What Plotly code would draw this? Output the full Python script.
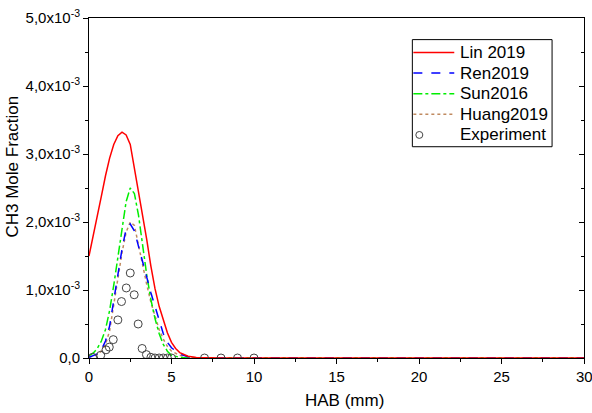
import plotly.graph_objects as go

# HAB (mm) grid for model curves
x_lin = [0, 0.25, 0.5, 0.75, 1.0, 1.25, 1.5, 1.75, 2.0, 2.25, 2.5, 2.75, 3.0, 3.25, 3.5, 3.75,
         4.0, 4.25, 4.5, 4.75, 5.0, 5.25, 5.5, 6.0, 6.5, 7.0, 8.0, 30.0]
y_lin = [1.50, 1.78, 2.08, 2.38, 2.68, 2.94, 3.14, 3.27, 3.32, 3.28, 3.14, 2.80, 2.42, 2.08, 1.74, 1.35,
         1.02, 0.76, 0.55, 0.37, 0.23, 0.14, 0.08, 0.025, 0.008, 0.003, 0.0, 0.0]

x_ren = [0, 0.25, 0.5, 0.75, 1.0, 1.25, 1.5, 1.75, 2.0, 2.25, 2.5, 2.75, 3.0, 3.25, 3.5, 3.75,
         4.0, 4.25, 4.5, 4.75, 5.0, 5.5, 6.0, 6.5, 7.0, 30.0]
y_ren = [0.01, 0.03, 0.06, 0.12, 0.25, 0.47, 0.85, 1.22, 1.60, 1.90, 1.97, 1.87, 1.64, 1.40, 1.16, 0.96,
         0.76, 0.55, 0.36, 0.23, 0.15, 0.06, 0.02, 0.005, 0.0, 0.0]

x_sun = [0, 0.25, 0.5, 0.75, 1.0, 1.25, 1.5, 1.75, 2.0, 2.25, 2.5, 2.75, 3.0, 3.25, 3.5, 3.75,
         4.0, 4.25, 4.5, 4.75, 5.0, 5.5, 6.0, 30.0]
y_sun = [0.03, 0.07, 0.14, 0.25, 0.42, 0.70, 1.07, 1.48, 1.92, 2.30, 2.50, 2.42, 2.10, 1.65, 1.22, 0.86,
         0.58, 0.36, 0.20, 0.10, 0.04, 0.01, 0.0, 0.0]

x_huang = [0, 0.25, 0.5, 0.75, 1.0, 1.25, 1.5, 1.75, 2.0, 2.25, 2.5, 2.75, 3.0, 3.25, 3.5, 3.75,
           4.0, 4.25, 4.5, 4.75, 5.0, 5.5, 6.0, 7.0, 30.0]
y_huang = [0.01, 0.03, 0.05, 0.10, 0.20, 0.40, 0.78, 1.18, 1.55, 1.85, 2.00, 1.95, 1.65, 1.35, 1.08, 0.82,
           0.60, 0.42, 0.28, 0.17, 0.10, 0.04, 0.01, 0.0, 0.0]

x_exp = [0.22, 0.71, 1.03, 1.23, 1.47, 1.75, 1.97, 2.26, 2.50, 2.74, 2.98, 3.22, 3.48, 3.75,
         4.0, 4.25, 4.5, 4.75, 5.0, 7.0, 8.0, 9.0, 10.0]
y_exp = [0.01, 0.04, 0.12, 0.16, 0.27, 0.56, 0.83, 1.03, 1.25, 0.93, 0.50, 0.14, 0.05, 0.01,
         0.0, 0.0, 0.0, 0.0, 0.0, 0.0, 0.0, 0.0, 0.0]

series_names = ["Lin 2019", "Ren2019", "Sun2016", "Huang2019", "Experiment"]
scale = 1e-3
y_ticks = [0, 1, 2, 3, 4, 5]
y_ticktext = ["0,0", "1,0x10<sup>-3</sup>", "2,0x10<sup>-3</sup>", "3,0x10<sup>-3</sup>",
              "4,0x10<sup>-3</sup>", "5,0x10<sup>-3</sup>"]
x_ticks = [0, 5, 10, 15, 20, 25, 30]
x_ticktext = ["0", "5", "10", "15", "20", "25", ""]

FONT = "Liberation Sans, Arial, sans-serif"
W, H = 592, 413
ML, MR, MT, MB = 89, 7, 12, 55
PW, PH = W - ML - MR, H - MT - MB


def px(x):
    return (x - ML) / PW


def py(y):
    return (H - MB - y) / PH


styles = {
    "Lin 2019": dict(color="#ff0000", width=1.5, dash="solid"),
    "Ren2019": dict(color="#0000ff", width=1.5, dash="dash"),
    "Sun2016": dict(color="#00ee00", width=1.5, dash="dashdot"),
    "Huang2019": dict(color="#c08a60", width=1.5, dash="dot"),
}

fig = go.Figure()
fig.add_trace(go.Scatter(x=x_huang, y=[v * scale for v in y_huang], mode="lines", name=series_names[3],
                         line=styles["Huang2019"]))
fig.add_trace(go.Scatter(x=x_sun, y=[v * scale for v in y_sun], mode="lines", name=series_names[2],
                         line=styles["Sun2016"]))
fig.add_trace(go.Scatter(x=x_ren, y=[v * scale for v in y_ren], mode="lines", name=series_names[1],
                         line=styles["Ren2019"]))
fig.add_trace(go.Scatter(x=x_lin, y=[v * scale for v in y_lin], mode="lines", name=series_names[0],
                         line=styles["Lin 2019"]))
fig.add_trace(go.Scatter(x=x_exp, y=[v * scale for v in y_exp], mode="markers", name=series_names[4],
                         marker=dict(symbol="circle-open", size=8, color="#444444",
                                     line=dict(width=1))))
# dummy trace for the right-hand axis with inward ticks
fig.add_trace(go.Scatter(x=[None], y=[None], yaxis="y2", showlegend=False, hoverinfo="skip"))

fig.update_layout(
    width=W, height=H,
    margin=dict(l=ML, r=MR, t=MT, b=MB),
    paper_bgcolor="white", plot_bgcolor="white",
    font=dict(family=FONT, color="#000000"),
    showlegend=False,
    xaxis=dict(range=[0, 30], tickvals=x_ticks, ticktext=x_ticktext, ticks="outside", ticklen=5,
               tickwidth=1, tickcolor="#000", showline=True, linecolor="#000", linewidth=1,
               mirror=True, showgrid=False, zeroline=False, tickfont=dict(size=15, family=FONT),
               minor=dict(tickvals=[2.5, 7.5, 12.5, 17.5, 22.5, 27.5], ticks="outside",
                          ticklen=3, tickcolor="#000")),
    yaxis=dict(range=[0, 5 * scale], tickvals=[v * scale for v in y_ticks], ticktext=y_ticktext,
               ticks="outside", ticklen=5, tickwidth=1, tickcolor="#000",
               showline=True, linecolor="#000", linewidth=1, mirror=True,
               showgrid=False, zeroline=False, tickfont=dict(size=15, family=FONT),
               minor=dict(tickvals=[v * scale for v in [0.5, 1.5, 2.5, 3.5, 4.5]],
                          ticks="outside", ticklen=3, tickcolor="#000")),
    yaxis2=dict(range=[0, 5 * scale], overlaying="y", side="right", anchor="x",
                tickvals=[v * scale for v in y_ticks], ticks="inside", ticklen=5,
                tickcolor="#000", showticklabels=False, showgrid=False, zeroline=False,
                minor=dict(tickvals=[v * scale for v in [0.5, 1.5, 2.5, 3.5, 4.5]],
                           ticks="inside", ticklen=3, tickcolor="#000")),
)

annotations = [
    dict(text="HAB (mm)", x=px(345), y=py(401), xref="paper", yref="paper", showarrow=False,
         xanchor="center", yanchor="middle", font=dict(size=17, family=FONT)),
    dict(text="CH3 Mole Fraction", textangle=-90, x=px(12), y=py(163), xref="paper", yref="paper",
         showarrow=False, xanchor="center", yanchor="middle", font=dict(size=17, family=FONT)),
    # last x tick label, partly cut off by the right edge as in the reference
    dict(text="30", x=1.0, y=py(377), xref="paper", yref="paper", showarrow=False,
         xanchor="center", yanchor="middle", font=dict(size=15, family=FONT)),
]
shapes = []

# legend drawn by hand so that its rows match the reference spacing
box_l, box_r, box_t, box_b = 413, 553, 34, 143
shapes.append(dict(type="rect", xref="paper", yref="paper", x0=px(box_l), x1=px(box_r),
                   y0=py(box_b), y1=py(box_t), line=dict(color="#000", width=1),
                   fillcolor="white", layer="above"))
row_y = [47, 68, 89, 110, 131]
for name, ry in zip(series_names, row_y):
    if name in styles:
        st = styles[name]
        shapes.append(dict(type="line", xref="paper", yref="paper", x0=px(414), x1=px(455),
                           y0=py(ry), y1=py(ry), layer="above",
                           line=dict(color=st["color"], width=st["width"], dash=st["dash"])))
    else:
        shapes.append(dict(type="circle", xref="paper", yref="paper", x0=px(416.5), x1=px(423.5),
                           y0=py(ry + 3.5), y1=py(ry - 3.5), layer="above",
                           line=dict(color="#444444", width=1)))
    annotations.append(dict(text=name, x=px(459), y=py(ry), xref="paper", yref="paper",
                            showarrow=False, xanchor="left", yanchor="middle",
                            font=dict(size=17, family=FONT)))

fig.update_layout(annotations=annotations, shapes=shapes)
fig.write_html("out.html")
